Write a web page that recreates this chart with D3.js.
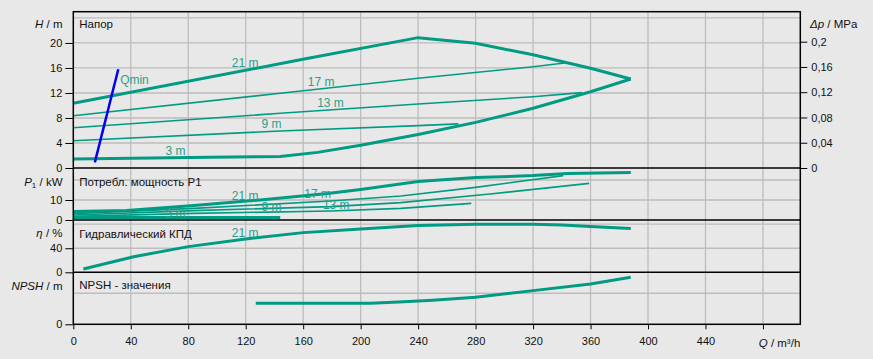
<!DOCTYPE html>
<html lang="ru">
<head>
<meta charset="UTF-8">
<title>Pump curves</title>
<script src="https://cdnjs.cloudflare.com/ajax/libs/d3/7.8.4/d3.min.js"></script>
<style>
  html, body { margin: 0; padding: 0; background: #e8e8e8; }
  svg { display: block; font-family: "Liberation Sans", Arial, sans-serif; font-size: 11px; }
  .tick text { fill: #111; font-size: 11px; }
  .tick line { stroke: #000; }
</style>
</head>
<body>
<svg width="873" height="359"></svg>
<script>
// ---- data (Q in m3/h) ----
const qLabels = [0, 40, 80, 120, 160, 200, 240, 280, 320, 360, 400, 440];

const head21 = [[0,10.35],[158,17.3],[240,20.85],[280,19.95],[320,18.1],[360,15.95],[388,14.24]];
const head17 = [[0,8.37],[144,11.95],[240,14.35],[320,16.2],[342,16.8]];
const head13 = [[0,6.45],[144,8.75],[240,10.24],[320,11.4],[354,12.05]];
const head9  = [[0,4.37],[144,5.92],[240,6.77],[268,7.05]];
const head3  = [[0,1.45],[95,1.7],[144,1.85],[170,2.5],[200,3.65],[240,5.35],[280,7.3],[320,9.55],[360,12.2],[388,14.24]];
const qmin   = [[15,0.9],[31.3,15.8]];

const power21 = [[0,4.2],[37,4.7],[84,7.2],[130,10],[177,13.2],[200,15.2],[240,19.3],[280,21.2],[320,22.2],[344,23.3],[388,23.8]];
const power17 = [[0,3.2],[84,5.8],[179,9.5],[228,12],[280,16.3],[341,22.2]];
const power13 = [[0,2.5],[84,4.7],[179,6.7],[228,8.7],[290,13],[359,18.3]];
const power9  = [[0,1.8],[84,3.3],[179,4.5],[228,5.8],[277,8.3]];
const power3  = [[0,1.3],[144,1.3]];

const eff21 = [[7,5.5],[42,26],[80,42.7],[120,55.5],[160,66],[200,72],[240,78],[280,80],[320,80],[340,78.5],[360,76],[388,72.7]];

const npsh = [[127,2.7],[207,2.7],[230,2.92],[250,3.1],[280,3.48],[320,4.34],[360,5.2],[388,6.06]];

const hTicks = [0, 4, 8, 12, 16, 20];
const dpTicks = [0, 0.04, 0.08, 0.12, 0.16, 0.2];
const pTicks = [0, 10];
const etaTicks = [0, 40];
const npshTicks = [0];

// ---- layout ----
const left = 73.3, right = 800.3;
const teal = "#009b82", tealText = "#2a9f8a";
const svg = d3.select("svg");

const x = d3.scaleLinear([0, 506], [left, right]);
const yH = d3.scaleLinear([0, 25], [168, 11.7]);
const yDp = d3.scaleLinear([0, 0.2475], [168, 11.7]);
const yP = d3.scaleLinear([0, 26], [220, 168]);
const yEta = d3.scaleLinear([0, 87], [272.3, 220]);
const yN = d3.scaleLinear([0, 6.7], [324.3, 272.3]);

const panels = [
  { y: yH, grid: [4, 8, 12, 16, 20, 24] },
  { y: yP, grid: [10, 20] },
  { y: yEta, grid: [40, 80] },
  { y: yN, grid: [4] }
];

// grid
const grid = svg.append("g").attr("stroke", "#bdbdbd").attr("stroke-width", 1.3);
panels.forEach(p => {
  const [b, t] = p.y.range();
  grid.selectAll(null).data(d3.range(40, 500, 40)).enter().append("line")
    .attr("x1", d => x(d)).attr("x2", d => x(d)).attr("y1", t).attr("y2", b);
  grid.selectAll(null).data(p.grid).enter().append("line")
    .attr("x1", left).attr("x2", right).attr("y1", d => p.y(d)).attr("y2", d => p.y(d));
});

// curves
const line = (y) => d3.line().x(d => x(d[0])).y(d => y(d[1]));
function curve(data, y, w, color) {
  svg.append("path").datum(data).attr("d", line(y))
    .attr("fill", "none").attr("stroke", color || teal).attr("stroke-width", w);
}
curve(head17, yH, 1.6); curve(head13, yH, 1.6); curve(head9, yH, 1.6);
curve(head21, yH, 3); curve(head3, yH, 3);
curve(qmin, yH, 2.5, "#0000ee");
curve(power17, yP, 1.6); curve(power13, yP, 1.6); curve(power9, yP, 1.6);
curve(power21, yP, 3); curve(power3, yP, 3);
curve(eff21, yEta, 3);
curve(npsh, yN, 3);

// curve labels (placed in data coordinates)
const curveLabels = [
  [yH, 119.6, 16.8, "21 m"], [yH, 172.5, 13.76, "17 m"], [yH, 179, 10.4, "13 m"],
  [yH, 138, 7.04, "9 m"], [yH, 71.2, 2.77, "3 m"],
  [yP, 119.6, 12.15, "21 m"], [yP, 170, 13.2, "17 m"], [yP, 183, 7.7, "13 m"],
  [yP, 138, 6.65, "9 m"], [yP, 71.2, 3.35, "3 m"],
  [yEta, 119.6, 65, "21 m"]
];
svg.append("g").attr("fill", tealText).attr("font-size", 12).attr("text-anchor", "middle")
  .selectAll("text").data(curveLabels).enter().append("text")
  .attr("x", d => x(d[1])).attr("y", d => d[0](d[2])).attr("dy", "0.35em").text(d => d[3]);
svg.append("text").attr("fill", tealText).attr("font-size", 12)
  .attr("x", x(32.6)).attr("y", yH(14.08)).attr("dy", "0.35em").text("Qmin");

// frame and panel separators
const frame = svg.append("g").attr("stroke", "#000").attr("stroke-width", 1.5).attr("fill", "none");
frame.append("rect").attr("x", left).attr("y", 11.7).attr("width", right - left).attr("height", 324.3 - 11.7);
[yH, yP, yEta].forEach(y => frame.append("line")
  .attr("x1", left).attr("x2", right).attr("y1", y.range()[0]).attr("y2", y.range()[0]));

// axes
function leftAxis(y, minor, major) {
  const g = svg.append("g").attr("transform", `translate(${left},0)`);
  g.call(d3.axisLeft(y).tickValues(minor).tickSize(6).tickFormat(""));
  g.call(d3.axisLeft(y).tickValues(major).tickSize(8).tickPadding(3).tickFormat(d3.format("d")));
  g.selectAll(".domain").remove();
  return g;
}
leftAxis(yH, d3.range(0, 26, 1), hTicks);
leftAxis(yP, d3.range(0, 27, 2), pTicks);
leftAxis(yEta, d3.range(0, 90, 10), etaTicks);
leftAxis(yN, d3.range(0, 7, 1), npshTicks);

const ra = svg.append("g").attr("transform", `translate(${right},0)`);
ra.call(d3.axisRight(yDp).tickValues(d3.range(0, 0.245, 0.01)).tickSize(5).tickFormat(""));
ra.call(d3.axisRight(yDp).tickValues(dpTicks).tickSize(7).tickPadding(4)
  .tickFormat(d => d === 0 ? "0" : String(+d.toFixed(2)).replace(".", ",")));
ra.selectAll(".domain").remove();

const ba = svg.append("g").attr("transform", `translate(0,324.3)`);
ba.call(d3.axisBottom(x).tickValues(d3.range(0, 501, 10)).tickSize(3).tickFormat(""));
ba.call(d3.axisBottom(x).tickValues(qLabels.concat([480])).tickSize(5).tickPadding(8)
  .tickFormat(d => d === 480 ? "" : d));
ba.selectAll(".domain").remove();

// titles
const titles = svg.append("g").attr("fill", "#111").attr("font-size", 11.5);
function title(xp, yp, parts, anchor) {
  const t = titles.append("text").attr("x", xp).attr("y", yp).attr("dy", "0.35em")
    .attr("text-anchor", anchor || "start");
  parts.forEach(p => {
    const s = t.append("tspan").text(p[0]);
    if (p[1] === "i") s.attr("font-style", "italic");
    if (p[1] === "sub") s.attr("font-size", 8).attr("dy", "2");
    if (p[2]) s.attr("dy", p[2]);
  });
}
title(62.5, 24.3, [["H", "i"], [" / m"]], "end");
title(62.5, 181.7, [["P", "i"], ["1", "sub"], [" / kW", "", "-2"]], "end");
title(62.5, 233.3, [["η", "i"], [" / %"]], "end");
title(62.5, 285.5, [["NPSH", "i"], [" / m"]], "end");
title(810, 24.3, [["Δp", "i"], [" / MPa"]]);
title(right, 343.3, [["Q", "i"], [" / m³/h"]], "end");

title(79.3, 24.3, [["Напор"]]);
title(79.3, 181.7, [["Потребл. мощность P1"]]);
title(79.3, 233.8, [["Гидравлический КПД"]]);
title(79.3, 285.3, [["NPSH - значения"]]);
</script>
</body>
</html>
